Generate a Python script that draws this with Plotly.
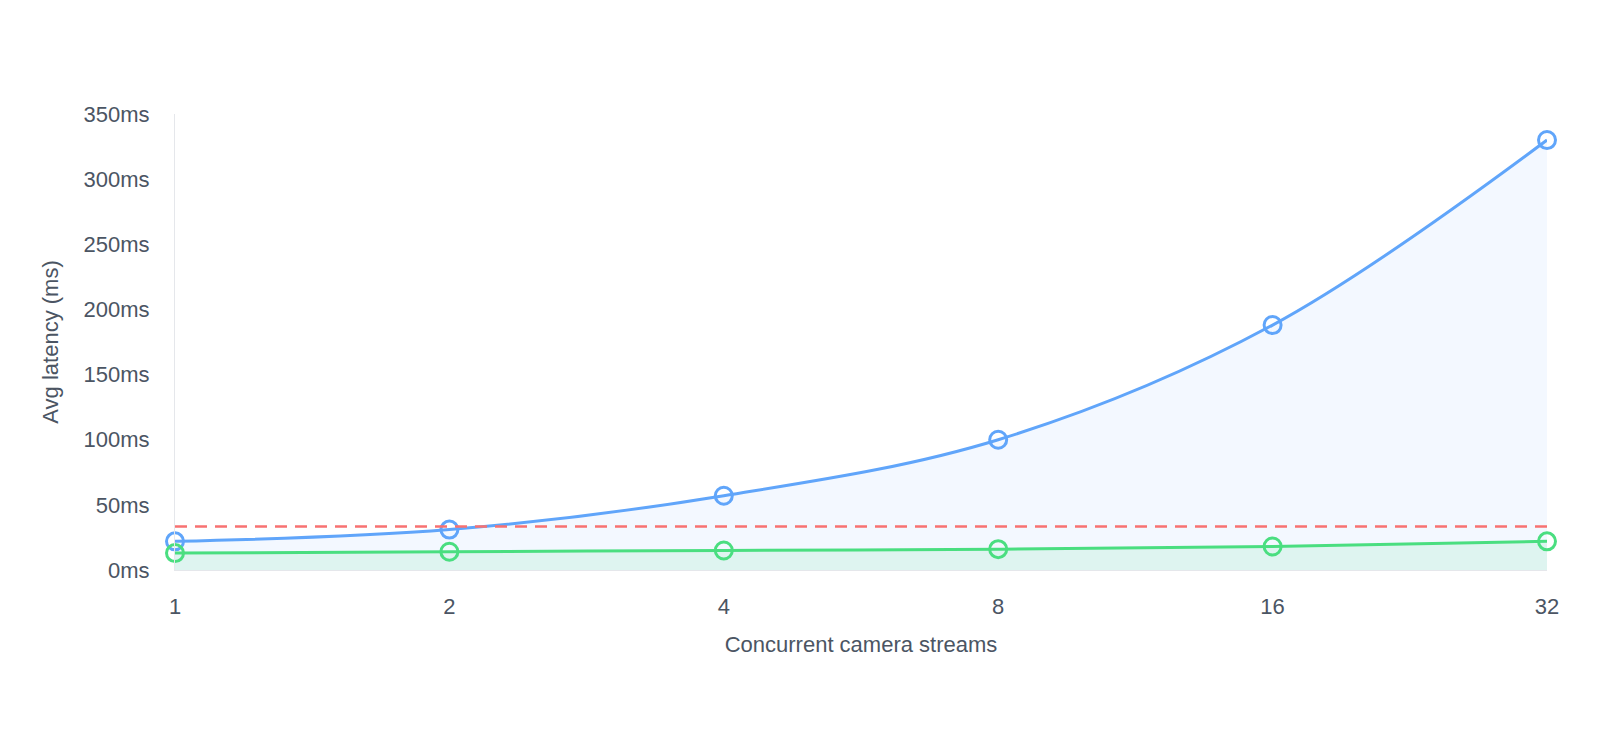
import plotly.graph_objects as go

# Datos
streams = ["1", "2", "4", "8", "16", "32"]
latencia_actual = [22, 31, 57, 100, 188, 330]
latencia_nueva = [13, 14, 15, 16, 18, 22]
presupuesto_ms = 33.3

fig = go.Figure()

# Serie azul con relleno
fig.add_trace(go.Scatter(
    x=streams, y=latencia_actual, mode="lines+markers",
    line=dict(color="#60a5fa", width=3, shape="spline"),
    marker=dict(symbol="circle-open", size=17, line=dict(width=3), color="#60a5fa"),
    fill="tozeroy", fillcolor="rgba(96,165,250,0.08)",
    cliponaxis=False, hoverinfo="skip", showlegend=False,
))

# Serie verde con relleno
fig.add_trace(go.Scatter(
    x=streams, y=latencia_nueva, mode="lines+markers",
    line=dict(color="#4ade80", width=3, shape="spline"),
    marker=dict(symbol="circle-open", size=17, line=dict(width=3), color="#4ade80"),
    fill="tozeroy", fillcolor="rgba(74,222,128,0.12)",
    cliponaxis=False, hoverinfo="skip", showlegend=False,
))

# Línea de presupuesto (discontinua)
fig.add_trace(go.Scatter(
    x=streams, y=[presupuesto_ms] * len(streams), mode="lines",
    line=dict(color="#f87171", width=2.5, dash="12px,8px"),
    hoverinfo="skip", showlegend=False,
))

fuente = dict(family="Liberation Sans, Arial, sans-serif", size=22, color="#4b5563")

fig.update_layout(
    width=1600, height=754,
    margin=dict(l=167, r=61, t=106, b=192),
    paper_bgcolor="white", plot_bgcolor="white",
    font=fuente,
    showlegend=False,
    xaxis=dict(
        type="category", range=[0, 5],
        showgrid=False, zeroline=False,
        showline=True, linecolor="#e5e7eb", linewidth=1,
        ticks="", ticklabelstandoff=17,
        title=dict(text="Concurrent camera streams", standoff=18, font=dict(size=22)),
    ),
    yaxis=dict(
        range=[0, 350], dtick=50, ticksuffix="ms",
        showgrid=False, zeroline=False,
        showline=True, linecolor="#e5e7eb", linewidth=1,
        ticks="", ticklabelstandoff=20,
        title=dict(text="Avg latency (ms)", standoff=18, font=dict(size=22)),
    ),
)

fig.write_html("out.html")
